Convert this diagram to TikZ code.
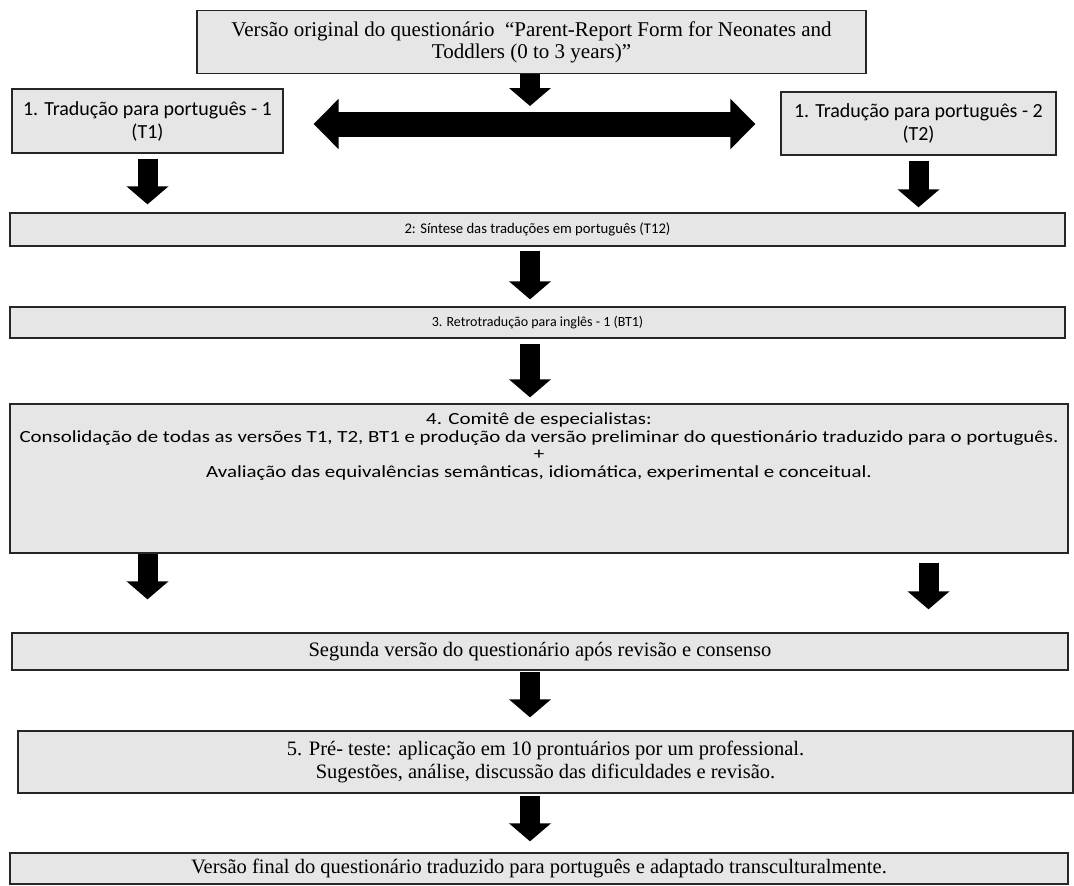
\documentclass[tikz,border=0pt]{standalone}
\usepackage{fontspec}
\setmainfont{Liberation Serif}
\newfontfamily\calibri{Carlito}
\newfontfamily\calibrilargo[FakeStretch=1.23]{Carlito}
\usetikzlibrary{positioning,arrows.meta}
\definecolor{cinza}{RGB}{230,230,230}
\tikzset{
  caixa/.style={draw=black!85,fill=cinza,line width=1.3pt,align=center,inner sep=0pt},
  serifa/.style={caixa,font=\fontsize{20.5}{23}\selectfont},
  sans/.style={caixa,font=\calibri\fontsize{20}{23}\selectfont},
  sanspeq/.style={caixa,font=\calibri\fontsize{14.7}{17}\selectfont},
  setabaixo/.style={-{Triangle[length=18pt,width=41pt]},line width=20pt},
  setadupla/.style={{Triangle[length=25pt,width=49pt]}-{Triangle[length=25pt,width=49pt]},line width=25pt}
}
\begin{document}
\begin{tikzpicture}[x=1pt,y=-1pt]
\useasboundingbox (0,0) rectangle (1074,886);
% caixas
\node[serifa,font=\fontsize{21}{22}\selectfont,minimum width=669,minimum height=63] (orig) at (531.5,42)
  {Versão original do questionário~~“Parent-Report Form for Neonates and\\ Toddlers (0 to 3 years)”};
\node[sans,minimum width=271,minimum height=64] (tradA) at (147.5,121)
  {1. Tradução para português - 1\\ (T1)};
\node[sans,minimum width=275,minimum height=63] (tradB) at (918.5,123.5)
  {1. Tradução para português - 2\\ (T2)};
\node[sanspeq,minimum width=1055,minimum height=33] (sint) at (537.5,229.5)
  {2: Síntese das traduções em português (T12)};
\node[sanspeq,font=\calibri\fontsize{14}{17}\selectfont,minimum width=1055,minimum height=31] (retro) at (537.5,322.5)
  {3. Retrotradução para inglês - 1 (BT1)};
\node[caixa,minimum width=1058,minimum height=149] (comite) at (539,478.5) {};
\node[font=\calibrilargo\fontsize{17}{17.5}\selectfont,align=center,below=6pt of comite.north] (comiteTxt)
  {4. Comitê de especialistas:\\
   Consolidação de todas as versões T1, T2, BT1 e produção da versão preliminar do questionário traduzido para o português.\\
   +\\
   Avaliação das equivalências semânticas, idiomática, experimental e conceitual.};
\node[serifa,minimum width=1056,minimum height=37] (segunda) at (540,651.5)
  {Segunda versão do questionário após revisão e consenso};
\node[serifa,minimum width=1055,minimum height=62] (preteste) at (545.5,762)
  {5. Pré- teste: aplicação em 10 prontuários por um professional.\\ Sugestões, análise, discussão das dificuldades e revisão.};
\node[serifa,minimum width=1058,minimum height=31] (final) at (539,868.5)
  {Versão final do questionário traduzido para português e adaptado transculturalmente.};

% setas
\coordinate (meio) at (530,106);
\draw[setabaixo] (orig.south -| meio) -- (meio);
\draw[setadupla,shorten <=30pt,shorten >=25pt] ([yshift=-3pt]tradA.east) -- ([yshift=-3pt]tradA.east -| tradB.west);
\draw[setabaixo,shorten <=5pt,shorten >=8pt] (tradA.south) -- (tradA.south |- sint.north);
\draw[setabaixo,shorten <=5pt,shorten >=5pt] (tradB.south) -- (tradB.south |- sint.north);
\draw[setabaixo,shorten <=4pt,shorten >=7pt] (sint.south -| meio) -- (retro.north -| meio);
\draw[setabaixo,shorten <=7pt,shorten >=6pt] (retro.north -| meio) ++(0,31) -- (comite.north -| meio);
\draw[setabaixo,shorten >=33pt] (comite.south -| tradA) -- (segunda.north -| tradA);
\draw[setabaixo,shorten <=9pt,shorten >=23pt] ([xshift=10pt]comite.south -| tradB) -- ([xshift=10pt]segunda.north -| tradB);
\draw[setabaixo,shorten <=1pt,shorten >=13pt] (segunda.south -| meio) -- (preteste.north -| meio);
\draw[setabaixo,shorten <=2pt,shorten >=11pt] (preteste.south -| meio) -- (final.north -| meio);
\end{tikzpicture}
\end{document}
